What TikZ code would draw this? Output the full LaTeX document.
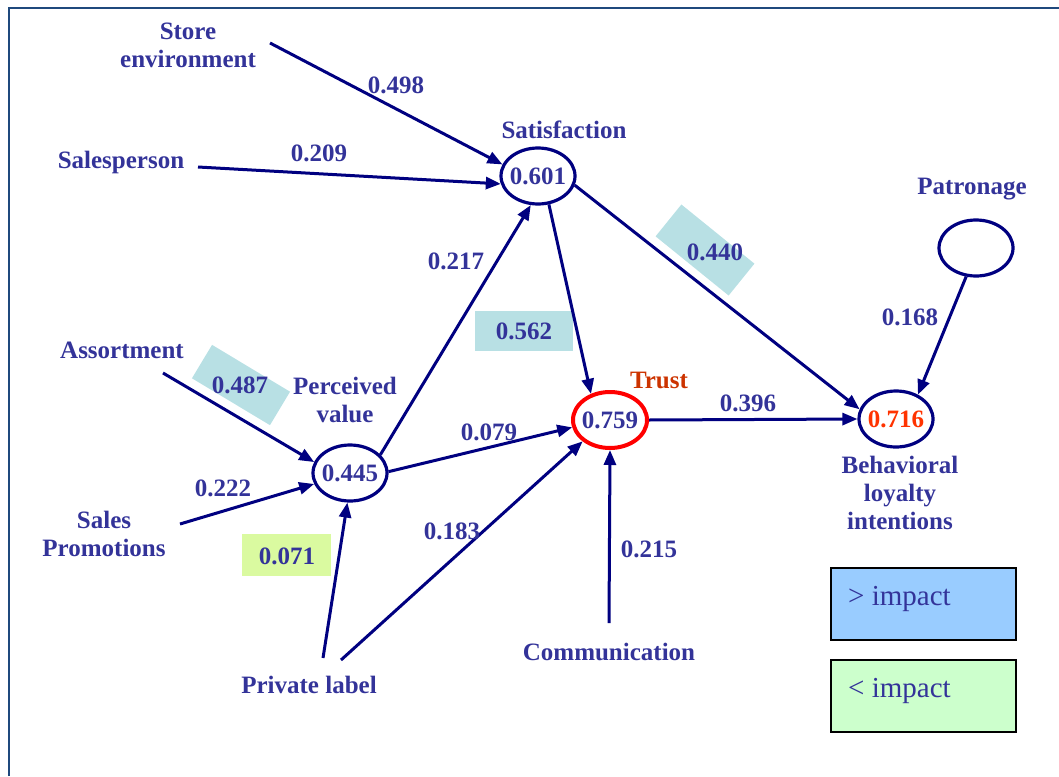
\documentclass[tikz,border=0pt]{standalone}
\usepackage{fontspec}
\setmainfont{Liberation Serif}
\usetikzlibrary{arrows.meta,shapes.geometric}
\definecolor{txt}{RGB}{51,51,153}
\definecolor{ln}{RGB}{0,0,128}
\definecolor{frm}{RGB}{31,73,125}
\definecolor{tealbox}{RGB}{184,224,228}
\definecolor{limebox}{RGB}{218,250,160}
\definecolor{trustred}{RGB}{204,51,0}
\definecolor{valred}{RGB}{255,51,0}
\definecolor{legblue}{RGB}{153,204,255}
\definecolor{leggreen}{RGB}{204,255,204}
\tikzset{
  lbl/.style={text=txt, font=\bfseries\fontsize{25}{28}\selectfont, align=center, inner sep=0pt},
  wgt/.style={lbl},
  latent/.style={ellipse, draw=ln, line width=3.2pt, minimum width=74pt, minimum height=56pt, inner sep=0pt,
    label={[lbl]center:#1}},
  conn/.style={draw=ln, line width=3pt, -{Triangle[length=15pt,width=12pt]}},
  tbox/.style={fill=tealbox, inner sep=0pt},
  legbox/.style={draw=black, line width=2.5pt},
  legtxt/.style={text=txt, font=\fontsize{29}{32}\selectfont, inner sep=0pt, anchor=base west}
}
\begin{document}
\begin{tikzpicture}[x=1pt,y=-1pt]
\useasboundingbox (0,0) rectangle (1059,776);
% frame
\draw[frm, line width=2.5pt] (9,776) -- (9,8) -- (1059,8);

% highlight boxes
\node[tbox, minimum width=94pt, minimum height=41pt, rotate=-39] (b440) at (705,250) {};
\node[tbox, minimum width=98pt, minimum height=40pt] (b562) at (524,331) {};
\node[tbox, minimum width=91pt, minimum height=39pt, rotate=-31] (b487) at (241,385) {};
\node[fill=limebox, inner sep=0pt, minimum width=89pt, minimum height=42pt] (b071) at (286,555) {};

% latent variables
\node[latent={0.601}] (sat) at (538,176) {};
\node[latent={0.445}] (pv) at (350,473) {};
\node[latent={0.759}, draw=red, line width=4pt] (trust) at (610,420) {};
\node[latent={\textcolor{valred}{0.716}}] (beh) at (896,419) {};
\node[latent={}] (pat) at (976,248) {};

% labels
\node[lbl] (store) at (188,45) {Store\\environment};
\node[lbl] (sales) at (121,162) {Salesperson};
\node[lbl] (satl) at (564,130) {Satisfaction};
\node[lbl] (assort) at (122,350) {Assortment};
\node[lbl] (pvl) at (345,400) {Perceived\\value};
\node[lbl] (promo) at (104,534) {Sales\\Promotions};
\node[lbl] (priv) at (309,685) {Private label};
\node[lbl] (comm) at (609,652) {Communication};
\node[lbl, text=trustred] (trustl) at (659,380) {Trust};
\node[lbl] (patl) at (972,189) {Patronage};
\node[lbl] (behl) at (900,493) {Behavioral\\loyalty\\intentions};

% free ends of connectors
\coordinate (cstore) at (270,43);
\coordinate (csales) at (198,167);
\coordinate (cassort) at (163,373);
\coordinate (cpromo) at (180,524);
\coordinate (cpriv1) at (323,658);
\coordinate (cpriv2) at (341,660);
\coordinate (ccomm) at (609,623);

% connectors
\draw[conn] (cstore) -- (sat.162);
\draw[conn] (csales) -- (sat.192);
\draw[conn] (cassort) -- (pv.163);
\draw[conn] (cpromo) -- (pv.197);
\draw[conn] (cpriv1) -- (pv.265);
\draw[conn] (cpriv2) -- (trust.218);
\draw[conn] (ccomm) -- (trust.south);
\draw[conn] (pv.31) -- (sat.256);
\draw[conn] (pv.2) -- (trust.191);
\draw[conn] (sat.291) -- (trust.126);
\draw[conn] (sat.346) -- (beh.165);
\draw[conn] (trust.east) -- (beh.west);
\draw[conn] (pat.251) -- (beh.48);

% weights
\node[wgt] (w498) at (396,85) {0.498};
\node[wgt] (w209) at (319,153) {0.209};
\node[wgt] (w217) at (456,261) {0.217};
\node[wgt] (w562) at (524,331) {0.562};
\node[wgt] (w440) at (715,252) {0.440};
\node[wgt] (w487) at (240,385) {0.487};
\node[wgt] (w222) at (223,488) {0.222};
\node[wgt] (w079) at (489,432) {0.079};
\node[wgt] (w071) at (287,556) {0.071};
\node[wgt] (w183) at (452,531) {0.183};
\node[wgt] (w215) at (649,549) {0.215};
\node[wgt] (w396) at (748,403) {0.396};
\node[wgt] (w168) at (910,317) {0.168};

% legend
\draw[legbox, fill=legblue] (831,568) rectangle (1016,640);
\node[legtxt] (lg1) at (848,605) {> impact};
\draw[legbox, fill=leggreen] (831,660) rectangle (1016,732);
\node[legtxt] (lg2) at (848,697) {< impact};
\end{tikzpicture}
\end{document}
